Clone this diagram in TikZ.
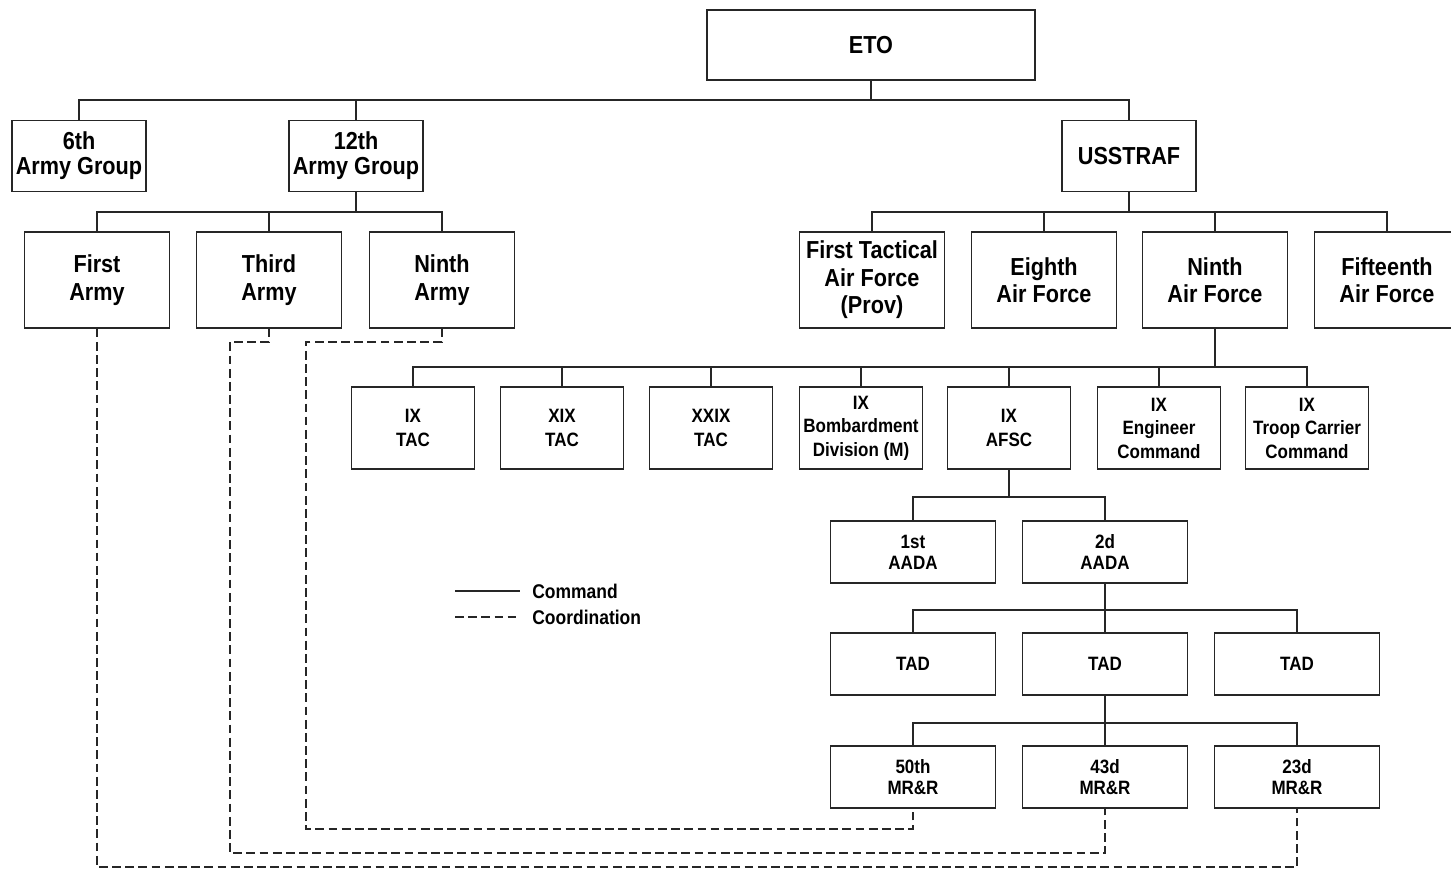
\documentclass[tikz,border=0pt]{standalone}
\usepackage{fontspec}
\setmainfont{Liberation Sans}[FakeStretch=0.88]
\tikzset{
  unit/.style={draw=black!85, line width=0.8pt, fill=white, align=center, inner sep=0pt},
  bigunit/.style={unit, font=\bfseries\fontsize{14}{15.7}\selectfont},
  smallunit/.style={unit, minimum width=2.46cm, minimum height=1.64cm, font=\bfseries\fontsize{11}{13.4}\selectfont},
  lowunit/.style={unit, minimum width=3.3cm, minimum height=1.24cm, font=\bfseries\fontsize{11}{11.8}\selectfont},
  cmd/.style={line width=0.8pt, black!85},
  coord/.style={line width=0.8pt, black!85, dash pattern=on 5pt off 2.5pt},
  legendtext/.style={anchor=west, inner sep=0pt, font=\bfseries\fontsize{11.3}{13}\selectfont}
}
\begin{document}
\begin{tikzpicture}[x=0.02cm, y=-0.02cm]
\useasboundingbox (0,0) rectangle (1451,873);
% top levels
\node[bigunit, minimum width=6.56cm, minimum height=1.4cm] (eto) at (871,45) {ETO};
\node[bigunit, minimum width=2.68cm, minimum height=1.42cm, font=\bfseries\fontsize{14}{14.2}\selectfont] (sixthag) at (79,156) {6th\\Army Group};
\node[bigunit, minimum width=2.68cm, minimum height=1.42cm, font=\bfseries\fontsize{14}{14.2}\selectfont] (twelfthag) at (356,156) {12th\\Army Group};
\node[bigunit, minimum width=2.68cm, minimum height=1.42cm] (usstraf) at (1129,156) {USSTRAF};
% armies and air forces
\node[bigunit, minimum width=2.9cm, minimum height=1.92cm] (firstarmy) at (97,280) {First\\Army};
\node[bigunit, minimum width=2.9cm, minimum height=1.92cm] (thirdarmy) at (269,280) {Third\\Army};
\node[bigunit, minimum width=2.9cm, minimum height=1.92cm] (nintharmy) at (442,280) {Ninth\\Army};
\node[bigunit, minimum width=2.9cm, minimum height=1.92cm] (firsttaf) at (872,280) {First Tactical\\Air Force\\(Prov)};
\node[bigunit, minimum width=2.9cm, minimum height=1.92cm] (eighthaf) at (1044,280) {Eighth\\Air Force};
\node[bigunit, minimum width=2.9cm, minimum height=1.92cm] (ninthaf) at (1215,280) {Ninth\\Air Force};
\node[bigunit, minimum width=2.9cm, minimum height=1.92cm] (fifteenthaf) at (1387,280) {Fifteenth\\Air Force};
% ninth air force commands
\node[smallunit] (ixtac) at (413,428) {IX\\TAC};
\node[smallunit] (xixtac) at (562,428) {XIX\\TAC};
\node[smallunit] (xxixtac) at (711,428) {XXIX\\TAC};
\node[smallunit] (ixbomb) at (861,428) {IX\\Bombardment\\Division (M)};
\node[smallunit] (ixafsc) at (1009,428) {IX\\AFSC};
\node[smallunit] (ixeng) at (1159,428) {IX\\Engineer\\Command};
\node[smallunit] (ixtcc) at (1307,428) {IX\\Troop Carrier\\Command};
% air defense
\node[lowunit] (aada1) at (913,552) {1st\\AADA};
\node[lowunit] (aada2) at (1105,552) {2d\\AADA};
\node[lowunit] (tad1) at (913,664) {TAD};
\node[lowunit] (tad2) at (1105,664) {TAD};
\node[lowunit] (tad3) at (1297,664) {TAD};
\node[lowunit] (mrr50) at (913,777) {50th\\MR\&R};
\node[lowunit] (mrr43) at (1105,777) {43d\\MR\&R};
\node[lowunit] (mrr23) at (1297,777) {23d\\MR\&R};

% command lines
\draw[cmd] (eto.south) -- (eto.south |- 0,100);
\draw[cmd] (sixthag.north) |- (usstraf.north |- 0,100) -- (usstraf.north);
\draw[cmd] (twelfthag.north) -- (twelfthag.north |- 0,100);

\draw[cmd] (twelfthag.south) -- (twelfthag.south |- 0,212);
\draw[cmd] (firstarmy.north) |- (nintharmy.north |- 0,212) -- (nintharmy.north);
\draw[cmd] (thirdarmy.north) -- (thirdarmy.north |- 0,212);

\draw[cmd] (usstraf.south) -- (usstraf.south |- 0,212);
\draw[cmd] (firsttaf.north) |- (fifteenthaf.north |- 0,212) -- (fifteenthaf.north);
\foreach \n in {eighthaf,ninthaf}
  \draw[cmd] (\n.north) -- (\n.north |- 0,212);

\draw[cmd] (ninthaf.south) -- (ninthaf.south |- 0,367);
\draw[cmd] (ixtac.north) |- (ixtcc.north |- 0,367) -- (ixtcc.north);
\foreach \n in {xixtac,xxixtac,ixbomb,ixafsc,ixeng}
  \draw[cmd] (\n.north) -- (\n.north |- 0,367);

\draw[cmd] (ixafsc.south) -- (ixafsc.south |- 0,497);
\draw[cmd] (aada1.north) |- (aada2.north |- 0,497) -- (aada2.north);

\draw[cmd] (aada2.south) -- (aada2.south |- 0,610);
\draw[cmd] (tad1.north) |- (tad3.north |- 0,610) -- (tad3.north);
\draw[cmd] (tad2.north) -- (tad2.north |- 0,610);

\draw[cmd] (tad2.south) -- (tad2.south |- 0,723);
\draw[cmd] (mrr50.north) |- (mrr23.north |- 0,723) -- (mrr23.north);
\draw[cmd] (mrr43.north) -- (mrr43.north |- 0,723);

% coordination lines
\draw[coord] (nintharmy.south) |- (306,342) |- (mrr50.south |- 0,829) -- (mrr50.south);
\draw[coord] (thirdarmy.south) |- (230,342) |- (mrr43.south |- 0,853) -- (mrr43.south);
\draw[coord] (firstarmy.south) |- (mrr23.south |- 0,867) -- (mrr23.south);

% legend
\coordinate (cmdA) at (455,591);
\coordinate (cmdB) at (520,591);
\coordinate (crdA) at (455,617);
\coordinate (crdB) at (520,617);
\draw[cmd] (cmdA) -- (cmdB);
\draw[coord] (crdA) -- (crdB);
\node[legendtext] (cmdlabel) at (532,591) {Command};
\node[legendtext] (crdlabel) at (532,617) {Coordination};
\end{tikzpicture}
\end{document}
